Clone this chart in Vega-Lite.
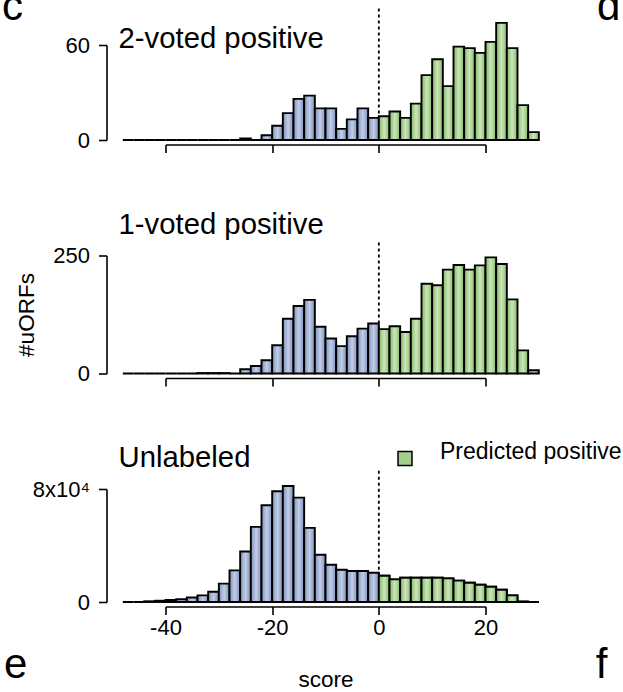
{
  "$schema": "https://vega.github.io/schema/vega-lite/v6.json",
  "background": "white",
  "padding": {"left": 1.5, "top": -14, "right": 0, "bottom": 0},
  "config": {
    "view": {"stroke": null},
    "font": "Liberation Sans",
    "axis": {"grid": false, "domainColor": "black", "domainWidth": 1.6, "tickColor": "black", "tickWidth": 1.6, "tickSize": 8, "labelColor": "black", "labelFont": "Liberation Sans", "labelFontSize": 22, "labelFlush": false, "labelOverlap": false, "labelBound": false, "titleFont": "Liberation Sans", "titleFontSize": 22.5, "titleFontWeight": "normal", "titleColor": "black"},
    "title": {"font": "Liberation Sans", "fontSize": 29.3, "fontWeight": "normal", "color": "black", "anchor": "start", "frame": "group", "offset": 0, "baseline": "alphabetic"},
    "legend": {"labelFont": "Liberation Sans", "labelFontSize": 23, "labelColor": "black"}
  },
  "datasets": {
    "p1": [
      {"lo": -48, "hi": -46, "n": 0}, {"lo": -46, "hi": -44, "n": 0}, {"lo": -44, "hi": -42, "n": 0}, {"lo": -42, "hi": -40, "n": 0},
      {"lo": -40, "hi": -38, "n": 0}, {"lo": -38, "hi": -36, "n": 0}, {"lo": -36, "hi": -34, "n": 0}, {"lo": -34, "hi": -32, "n": 0},
      {"lo": -32, "hi": -30, "n": 0}, {"lo": -30, "hi": -28, "n": 0}, {"lo": -28, "hi": -26, "n": 0}, {"lo": -26, "hi": -24, "n": 1},
      {"lo": -24, "hi": -22, "n": 0}, {"lo": -22, "hi": -20, "n": 3}, {"lo": -20, "hi": -18, "n": 9}, {"lo": -18, "hi": -16, "n": 17},
      {"lo": -16, "hi": -14, "n": 26}, {"lo": -14, "hi": -12, "n": 28}, {"lo": -12, "hi": -10, "n": 20}, {"lo": -10, "hi": -8, "n": 20},
      {"lo": -8, "hi": -6, "n": 7}, {"lo": -6, "hi": -4, "n": 13}, {"lo": -4, "hi": -2, "n": 20}, {"lo": -2, "hi": 0, "n": 14},
      {"lo": 0, "hi": 2, "n": 15}, {"lo": 2, "hi": 4, "n": 18}, {"lo": 4, "hi": 6, "n": 14}, {"lo": 6, "hi": 8, "n": 23},
      {"lo": 8, "hi": 10, "n": 41}, {"lo": 10, "hi": 12, "n": 51}, {"lo": 12, "hi": 14, "n": 34}, {"lo": 14, "hi": 16, "n": 59},
      {"lo": 16, "hi": 18, "n": 58}, {"lo": 18, "hi": 20, "n": 55}, {"lo": 20, "hi": 22, "n": 62}, {"lo": 22, "hi": 24, "n": 74},
      {"lo": 24, "hi": 26, "n": 58}, {"lo": 26, "hi": 28, "n": 22}, {"lo": 28, "hi": 30, "n": 5}
    ],
    "p2": [
      {"lo": -48, "hi": -46, "n": 0}, {"lo": -46, "hi": -44, "n": 0}, {"lo": -44, "hi": -42, "n": 0}, {"lo": -42, "hi": -40, "n": 0},
      {"lo": -40, "hi": -38, "n": 0}, {"lo": -38, "hi": -36, "n": 0}, {"lo": -36, "hi": -34, "n": 0}, {"lo": -34, "hi": -32, "n": 1},
      {"lo": -32, "hi": -30, "n": 1}, {"lo": -30, "hi": -28, "n": 1}, {"lo": -28, "hi": -26, "n": 0}, {"lo": -26, "hi": -24, "n": 9},
      {"lo": -24, "hi": -22, "n": 16}, {"lo": -22, "hi": -20, "n": 28}, {"lo": -20, "hi": -18, "n": 60}, {"lo": -18, "hi": -16, "n": 116},
      {"lo": -16, "hi": -14, "n": 143}, {"lo": -14, "hi": -12, "n": 156}, {"lo": -12, "hi": -10, "n": 99}, {"lo": -10, "hi": -8, "n": 74},
      {"lo": -8, "hi": -6, "n": 58}, {"lo": -6, "hi": -4, "n": 79}, {"lo": -4, "hi": -2, "n": 95}, {"lo": -2, "hi": 0, "n": 106},
      {"lo": 0, "hi": 2, "n": 94}, {"lo": 2, "hi": 4, "n": 100}, {"lo": 4, "hi": 6, "n": 88}, {"lo": 6, "hi": 8, "n": 116},
      {"lo": 8, "hi": 10, "n": 190}, {"lo": 10, "hi": 12, "n": 187}, {"lo": 12, "hi": 14, "n": 220}, {"lo": 14, "hi": 16, "n": 230},
      {"lo": 16, "hi": 18, "n": 220}, {"lo": 18, "hi": 20, "n": 229}, {"lo": 20, "hi": 22, "n": 246}, {"lo": 22, "hi": 24, "n": 232},
      {"lo": 24, "hi": 26, "n": 157}, {"lo": 26, "hi": 28, "n": 49}, {"lo": 28, "hi": 30, "n": 7}
    ],
    "p3": [
      {"lo": -48, "hi": -46, "n": 0}, {"lo": -46, "hi": -44, "n": 0}, {"lo": -44, "hi": -42, "n": 500}, {"lo": -42, "hi": -40, "n": 900},
      {"lo": -40, "hi": -38, "n": 1400}, {"lo": -38, "hi": -36, "n": 2000}, {"lo": -36, "hi": -34, "n": 3200}, {"lo": -34, "hi": -32, "n": 4700},
      {"lo": -32, "hi": -30, "n": 7300}, {"lo": -30, "hi": -28, "n": 13000}, {"lo": -28, "hi": -26, "n": 22400}, {"lo": -26, "hi": -24, "n": 35800},
      {"lo": -24, "hi": -22, "n": 53200}, {"lo": -22, "hi": -20, "n": 68500}, {"lo": -20, "hi": -18, "n": 78400}, {"lo": -18, "hi": -16, "n": 82100},
      {"lo": -16, "hi": -14, "n": 73900}, {"lo": -14, "hi": -12, "n": 52500}, {"lo": -12, "hi": -10, "n": 33400}, {"lo": -10, "hi": -8, "n": 26400},
      {"lo": -8, "hi": -6, "n": 22800}, {"lo": -6, "hi": -4, "n": 21900}, {"lo": -4, "hi": -2, "n": 21900}, {"lo": -2, "hi": 0, "n": 20700},
      {"lo": 0, "hi": 2, "n": 18600}, {"lo": 2, "hi": 4, "n": 16000}, {"lo": 4, "hi": 6, "n": 17200}, {"lo": 6, "hi": 8, "n": 17200},
      {"lo": 8, "hi": 10, "n": 17200}, {"lo": 10, "hi": 12, "n": 17200}, {"lo": 12, "hi": 14, "n": 16700}, {"lo": 14, "hi": 16, "n": 15100},
      {"lo": 16, "hi": 18, "n": 13600}, {"lo": 18, "hi": 20, "n": 12200}, {"lo": 20, "hi": 22, "n": 10800}, {"lo": 22, "hi": 24, "n": 8700},
      {"lo": 24, "hi": 26, "n": 4700}, {"lo": 26, "hi": 28, "n": 300}, {"lo": 28, "hi": 30, "n": 0}
    ]
  },
  "spacing": 115.5,
  "bounds": "flush",
  "resolve": {"scale": {"x": "independent", "y": "independent", "color": "independent"}, "legend": {"color": "independent"}},
  "vconcat": [
    {
      "width": 320, "height": 95,
      "title": {"text": "2-voted positive", "dx": -47, "dy": 72},
      "layer": [
        {
          "data": {"values": [{"threshold": 0}]},
          "mark": {"type": "rule", "strokeDash": [3, 3], "strokeWidth": 1.8, "color": "black"},
          "encoding": {
            "x": {"field": "threshold", "type": "quantitative", "scale": {"domain": [-40, 20], "nice": false, "zero": false}},
            "y": {"datum": 83, "type": "quantitative", "scale": {"domain": [0, 60], "nice": false}},
            "y2": {"datum": 0}
          }
        },
        {
          "data": {"name": "p1"},
          "transform": [{"filter": "datum.lo < 0"}],
          "mark": {"type": "bar", "stroke": "black", "strokeWidth": 1.9, "fill": {"gradient": "linear", "x1": 0, "y1": 0, "x2": 1, "y2": 0, "stops": [{"offset": 0, "color": "#7e90bb"}, {"offset": 0.5, "color": "#c2cee7"}, {"offset": 1, "color": "#7e90bb"}]}},
          "encoding": {
            "x": {"field": "lo", "type": "quantitative", "scale": {"domain": [-40, 20], "nice": false, "zero": false}, "axis": {"values": [-40, -20, 0, 20], "labels": false, "title": null, "offset": 4.5}},
            "x2": {"field": "hi"},
            "y": {"field": "n", "type": "quantitative", "scale": {"domain": [0, 60], "nice": false}, "axis": {"values": [0, 60], "title": null, "offset": 59, "labelPadding": 9}},
            "y2": {"datum": 0}
          }
        },
        {
          "data": {"name": "p1"},
          "transform": [{"filter": "datum.lo >= 0"}],
          "mark": {"type": "bar", "stroke": "black", "strokeWidth": 1.9, "fill": {"gradient": "linear", "x1": 0, "y1": 0, "x2": 1, "y2": 0, "stops": [{"offset": 0, "color": "#85b869"}, {"offset": 0.5, "color": "#cbe6bb"}, {"offset": 1, "color": "#85b869"}]}},
          "encoding": {
            "x": {"field": "lo", "type": "quantitative", "scale": {"domain": [-40, 20], "nice": false, "zero": false}},
            "x2": {"field": "hi"},
            "y": {"field": "n", "type": "quantitative", "scale": {"domain": [0, 60], "nice": false}},
            "y2": {"datum": 0}
          }
        },
        {
          "data": {"values": [{"letter": "c"}]},
          "mark": {"type": "text", "fontSize": 42, "baseline": "alphabetic", "align": "center", "color": "black", "font": "Liberation Sans"},
          "encoding": {
            "text": {"field": "letter"},
            "x": {"datum": -68.7, "type": "quantitative", "scale": {"domain": [-40, 20], "nice": false, "zero": false}},
            "y": {"datum": 75.5, "type": "quantitative", "scale": {"domain": [0, 60], "nice": false}}
          }
        },
        {
          "data": {"values": [{"letter": "d"}]},
          "mark": {"type": "text", "fontSize": 42, "baseline": "alphabetic", "align": "center", "color": "black", "font": "Liberation Sans"},
          "encoding": {
            "text": {"field": "letter"},
            "x": {"datum": 43.1, "type": "quantitative", "scale": {"domain": [-40, 20], "nice": false, "zero": false}},
            "y": {"datum": 75.5, "type": "quantitative", "scale": {"domain": [0, 60], "nice": false}}
          }
        }
      ]
    },
    {
      "width": 320, "height": 118,
      "title": {"text": "1-voted positive", "dx": -47, "dy": 2.5},
      "layer": [
        {
          "data": {"values": [{"threshold": 0}]},
          "mark": {"type": "rule", "strokeDash": [3, 3], "strokeWidth": 1.8, "color": "black"},
          "encoding": {
            "x": {"field": "threshold", "type": "quantitative", "scale": {"domain": [-40, 20], "nice": false, "zero": false}},
            "y": {"datum": 277.5, "type": "quantitative", "scale": {"domain": [0, 250], "nice": false}},
            "y2": {"datum": 0}
          }
        },
        {
          "data": {"name": "p2"},
          "transform": [{"filter": "datum.lo < 0"}],
          "mark": {"type": "bar", "stroke": "black", "strokeWidth": 1.9, "fill": {"gradient": "linear", "x1": 0, "y1": 0, "x2": 1, "y2": 0, "stops": [{"offset": 0, "color": "#7e90bb"}, {"offset": 0.5, "color": "#c2cee7"}, {"offset": 1, "color": "#7e90bb"}]}},
          "encoding": {
            "x": {"field": "lo", "type": "quantitative", "scale": {"domain": [-40, 20], "nice": false, "zero": false}, "axis": {"values": [-40, -20, 0, 20], "labels": false, "title": null, "offset": 4.5}},
            "x2": {"field": "hi"},
            "y": {"field": "n", "type": "quantitative", "scale": {"domain": [0, 250], "nice": false}, "axis": {"values": [0, 250], "title": "#uORFs", "offset": 59, "labelPadding": 9, "titlePadding": 14}},
            "y2": {"datum": 0}
          }
        },
        {
          "data": {"name": "p2"},
          "transform": [{"filter": "datum.lo >= 0"}],
          "mark": {"type": "bar", "stroke": "black", "strokeWidth": 1.9, "fill": {"gradient": "linear", "x1": 0, "y1": 0, "x2": 1, "y2": 0, "stops": [{"offset": 0, "color": "#85b869"}, {"offset": 0.5, "color": "#cbe6bb"}, {"offset": 1, "color": "#85b869"}]}},
          "encoding": {
            "x": {"field": "lo", "type": "quantitative", "scale": {"domain": [-40, 20], "nice": false, "zero": false}},
            "x2": {"field": "hi"},
            "y": {"field": "n", "type": "quantitative", "scale": {"domain": [0, 250], "nice": false}},
            "y2": {"datum": 0}
          }
        }
      ]
    },
    {
      "width": 320, "height": 113,
      "title": {"text": "Unlabeled", "dx": -47, "dy": 30},
      "layer": [
        {
          "data": {"values": [{"threshold": 0}]},
          "mark": {"type": "rule", "strokeDash": [3, 3], "strokeWidth": 1.8, "color": "black"},
          "encoding": {
            "x": {"field": "threshold", "type": "quantitative", "scale": {"domain": [-40, 20], "nice": false, "zero": false}},
            "y": {"datum": 93000, "type": "quantitative", "scale": {"domain": [0, 80000], "nice": false}},
            "y2": {"datum": 0}
          }
        },
        {
          "data": {"name": "p3"},
          "transform": [{"filter": "datum.lo >= 0"}],
          "mark": {"type": "bar", "stroke": "black", "strokeWidth": 1.9},
          "encoding": {
            "x": {"field": "lo", "type": "quantitative", "scale": {"domain": [-40, 20], "nice": false, "zero": false}},
            "x2": {"field": "hi"},
            "y": {"field": "n", "type": "quantitative", "scale": {"domain": [0, 80000], "nice": false}},
            "y2": {"datum": 0},
            "color": {"datum": "Predicted positive", "type": "nominal", "scale": {"range": ["#a6ce8f"]}, "legend": {"title": null, "orient": "none", "legendX": 228, "legendY": -42, "symbolType": "square", "symbolSize": 196, "symbolStrokeColor": "black", "symbolStrokeWidth": 1.5, "labelOffset": 23.5, "labelBaseline": "alphabetic", "padding": 0, "labelLimit": 400}}
          }
        },
        {
          "data": {"name": "p3"},
          "transform": [{"filter": "datum.lo < 0"}],
          "mark": {"type": "bar", "stroke": "black", "strokeWidth": 1.9, "fill": {"gradient": "linear", "x1": 0, "y1": 0, "x2": 1, "y2": 0, "stops": [{"offset": 0, "color": "#7e90bb"}, {"offset": 0.5, "color": "#c2cee7"}, {"offset": 1, "color": "#7e90bb"}]}},
          "encoding": {
            "x": {"field": "lo", "type": "quantitative", "scale": {"domain": [-40, 20], "nice": false, "zero": false}, "axis": {"values": [-40, -20, 0, 20], "labels": true, "labelExpr": "'' + datum.value", "title": "score", "offset": 4.5, "labelPadding": 3, "titlePadding": 30}},
            "x2": {"field": "hi"},
            "y": {"field": "n", "type": "quantitative", "scale": {"domain": [0, 80000], "nice": false}, "axis": {"values": [0, 80000], "labelExpr": "datum.value === 0 ? '0' : '8x10⁴'", "title": null, "offset": 59, "labelPadding": 9}},
            "y2": {"datum": 0}
          }
        },
        {
          "data": {"name": "p3"},
          "transform": [{"filter": "datum.lo >= 0"}],
          "mark": {"type": "bar", "stroke": "black", "strokeWidth": 1.9, "fill": {"gradient": "linear", "x1": 0, "y1": 0, "x2": 1, "y2": 0, "stops": [{"offset": 0, "color": "#85b869"}, {"offset": 0.5, "color": "#cbe6bb"}, {"offset": 1, "color": "#85b869"}]}},
          "encoding": {
            "x": {"field": "lo", "type": "quantitative", "scale": {"domain": [-40, 20], "nice": false, "zero": false}},
            "x2": {"field": "hi"},
            "y": {"field": "n", "type": "quantitative", "scale": {"domain": [0, 80000], "nice": false}},
            "y2": {"datum": 0}
          }
        },
        {
          "data": {"values": [{"letter": "e"}]},
          "mark": {"type": "text", "fontSize": 42, "baseline": "alphabetic", "align": "center", "color": "black", "font": "Liberation Sans"},
          "encoding": {
            "text": {"field": "letter"},
            "x": {"datum": -68.1, "type": "quantitative", "scale": {"domain": [-40, 20], "nice": false, "zero": false}},
            "y": {"datum": -54100, "type": "quantitative", "scale": {"domain": [0, 80000], "nice": false}}
          }
        },
        {
          "data": {"values": [{"letter": "f"}]},
          "mark": {"type": "text", "fontSize": 42, "baseline": "alphabetic", "align": "center", "color": "black", "font": "Liberation Sans"},
          "encoding": {
            "text": {"field": "letter"},
            "x": {"datum": 41.75, "type": "quantitative", "scale": {"domain": [-40, 20], "nice": false, "zero": false}},
            "y": {"datum": -54100, "type": "quantitative", "scale": {"domain": [0, 80000], "nice": false}}
          }
        }
      ]
    }
  ]
}
